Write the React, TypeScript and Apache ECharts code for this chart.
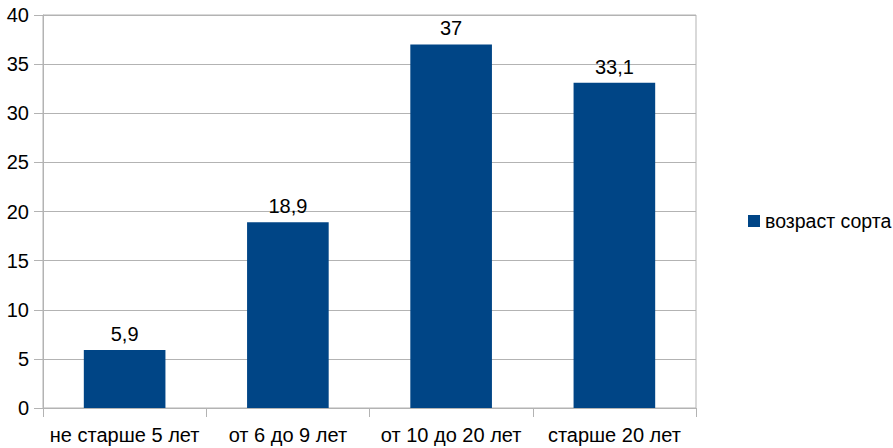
import React, { useEffect, useRef } from "react";
import * as echarts from "echarts";

const categories = ["не старше 5 лет", "от 6 до 9 лет", "от 10 до 20 лет", "старше 20 лет"];
const values = [5.9, 18.9, 37, 33.1];
const seriesName = "возраст сорта";

export default function App() {
  const ref = useRef<HTMLDivElement>(null);
  useEffect(() => {
    const chart = echarts.init(ref.current!, null, { renderer: "svg" });
    const gray = "#b3b3b3";
    const font = "'Liberation Sans', Arial, sans-serif";
    chart.setOption({
      animation: false,
      textStyle: { fontFamily: font },
      grid: {
        left: 43, right: 197, top: 15, bottom: 40,
        show: true, borderColor: gray, borderWidth: 1,
      },
      legend: {
        show: true,
        left: 743, top: 206,
        orient: "vertical",
        icon: "rect",
        itemWidth: 12, itemHeight: 12,
        itemGap: 6,
        textStyle: { fontSize: 19.5, color: "#000", fontFamily: font },
        data: [seriesName],
      },
      xAxis: {
        type: "category",
        data: categories,
        axisLine: { lineStyle: { color: gray } },
        axisTick: { show: true, length: 9, lineStyle: { color: gray } },
        axisLabel: { color: "#000", fontSize: 20, margin: 17, interval: 0, fontFamily: font },
      },
      yAxis: {
        type: "value",
        min: 0, max: 40, interval: 5,
        axisLine: { show: true, lineStyle: { color: gray } },
        axisTick: { show: true, length: 9, lineStyle: { color: gray } },
        axisLabel: { color: "#000", fontSize: 20, margin: 14, fontFamily: font },
        splitLine: { show: true, lineStyle: { color: gray } },
      },
      series: [
        {
          name: seriesName,
          type: "bar",
          data: values,
          barWidth: "50%",
          itemStyle: { color: "#004586" },
          label: {
            show: true,
            position: "top",
            distance: 6,
            color: "#000",
            fontSize: 20,
            fontFamily: font,
            formatter: (p: any) => String(p.value).replace(".", ","),
          },
        },
      ],
    });
    return () => chart.dispose();
  }, []);
  return <div ref={ref} style={{ width: 893, height: 448, position: "absolute", left: 0, top: 0 }} />;
}
